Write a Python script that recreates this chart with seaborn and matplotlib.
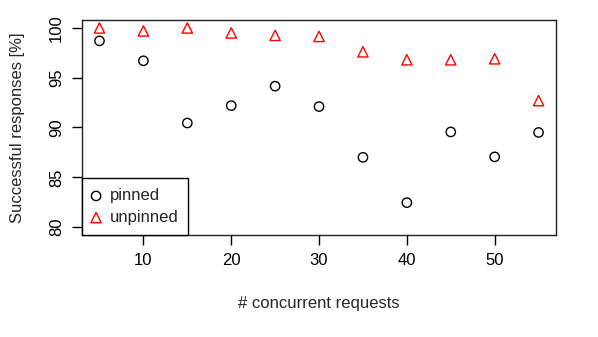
import numpy as np
import pandas as pd
import matplotlib
matplotlib.use("Agg")
import matplotlib.pyplot as plt
import seaborn as sns

requests = [5, 10, 15, 20, 25, 30, 35, 40, 45, 50, 55]
pinned = [98.7, 96.7, 90.45, 92.2, 94.15, 92.1, 87.0, 82.45, 89.55, 87.05, 89.5]
unpinned = [100.0, 99.7, 100.0, 99.5, 99.25, 99.15, 97.6, 96.8, 96.8, 96.9, 92.7]

sns.set_theme(style="ticks")
plt.rcParams['font.family'] = ['Liberation Sans', 'DejaVu Sans']

fig = plt.figure(figsize=(5.98, 3.37), dpi=100)
ax = fig.add_axes([0.137, 0.3027, 0.793, 0.638])

sns.scatterplot(x=requests, y=pinned, marker='o', s=45, fc='none', ec='black',
                linewidth=1, label='pinned', ax=ax)
sns.scatterplot(x=requests, y=unpinned, marker='^', s=55, fc='none', ec='red',
                linewidth=1, label='unpinned', ax=ax)

ax.set_xlim(3, 57)
ax.set_ylim(79.2, 100.8)
ax.set_xticks([10, 20, 30, 40, 50])
ax.set_yticks([80, 85, 90, 95, 100])
for lab in ax.get_yticklabels():
    lab.set_rotation(90)
    lab.set_va('center')
ax.tick_params(length=7, width=1, colors='black', labelsize=12, pad=6)
for sp in ax.spines.values():
    sp.set_visible(True)
    sp.set_color('#222222')
    sp.set_linewidth(1)

ax.set_xlabel('# concurrent requests', fontsize=12, labelpad=20)
ax.set_ylabel('Successful responses [%]', fontsize=12, labelpad=17)

leg = ax.legend(loc='lower left', borderaxespad=0, fancybox=False, framealpha=1,
                edgecolor='black', fontsize=12, handletextpad=0.55,
                labelspacing=0.4, borderpad=0.6, handlelength=0.5)
leg.get_frame().set_linewidth(1)

fig.savefig('out.png', dpi=100)
